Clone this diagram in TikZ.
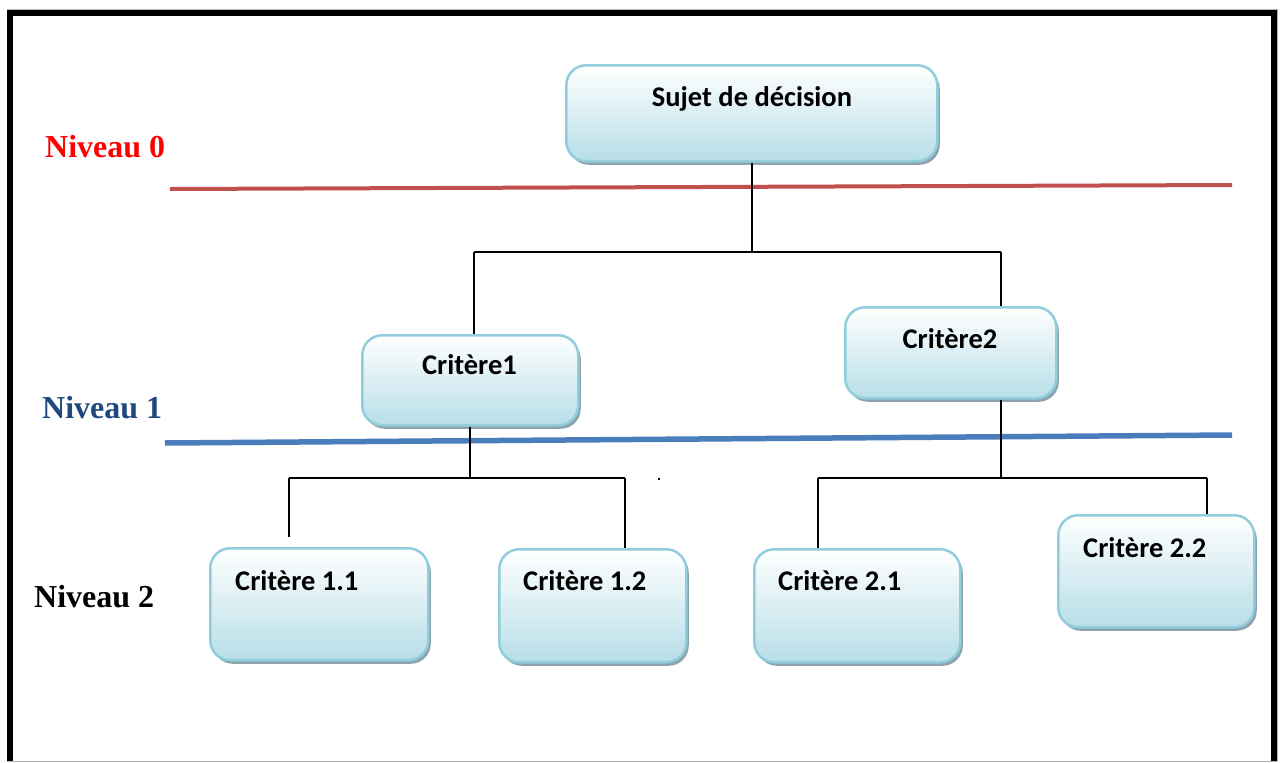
\documentclass[tikz,border=0pt]{standalone}
\usepackage{fontspec}
\setmainfont{Liberation Serif}
\newfontfamily\boxfont{Carlito}
\usetikzlibrary{shadows}
\definecolor{boxedge}{RGB}{146,205,220}
\definecolor{boxbot}{RGB}{183,222,232}
\definecolor{shadowc}{RGB}{140,162,172}
\definecolor{lvlred}{RGB}{192,80,77}
\definecolor{lvlblue}{RGB}{74,126,187}
\definecolor{nivblue}{RGB}{31,73,125}
\begin{document}
\begin{tikzpicture}[x=1pt,y=-1pt,
  box/.style={draw=boxedge, line width=2.5pt, rounded corners=20pt,
    top color=white, bottom color=boxbot, inner sep=0pt, anchor=north west,
    drop shadow={shadow xshift=2.5pt, shadow yshift=-3.5pt, fill=shadowc, opacity=1}},
  lab/.style={inner sep=0pt, font=\boxfont\bfseries\fontsize{28.5}{32}\selectfont},
  lvl/.style={inner sep=0pt, anchor=base west, font=\bfseries\fontsize{32}{36}\selectfont},
  conn/.style={draw=black, line width=2pt}]
\useasboundingbox (0,0) rectangle (1283,763);
% frame
\draw[gray!60, line width=1pt] (7.5,9.5) rectangle (1277,761);
\draw[line width=6pt] (10,761) -- (10,13) -- (1274,13) -- (1274,761);
% level lines
\draw[lvlred, line width=4pt] (170,189) -- (1232,185);
\draw[lvlblue, line width=5.5pt] (165,443) -- (1232,435);
% level labels
\node[lvl, text=red] (n0) at (45,157) {Niveau 0};
\node[lvl, text=nivblue] (n1) at (42,418) {Niveau 1};
\node[lvl, text=black] (n2) at (34,607) {Niveau 2};
% boxes
\node[box, minimum width=371pt, minimum height=96pt] (s) at (565,64) {};
\node[box, minimum width=216pt, minimum height=90pt] (c1) at (361,334) {};
\node[box, minimum width=211pt, minimum height=91pt] (c2) at (844,306) {};
\node[box, minimum width=218pt, minimum height=112pt] (c11) at (209,547) {};
\node[box, minimum width=187pt, minimum height=113pt] (c12) at (498,548) {};
\node[box, minimum width=206pt, minimum height=113pt] (c21) at (753,548) {};
\node[box, minimum width=196pt, minimum height=112pt] (c22) at (1057,514) {};
% connectors
\coordinate (j0) at (752,252);
\coordinate (j0l) at (474,252);
\coordinate (j0r) at (1001,252);
\coordinate (j1) at (470,478);
\coordinate (j1l) at (289,478);
\coordinate (j1r) at (625,478);
\coordinate (e11) at (289,537);
\coordinate (j2) at (1001,478);
\coordinate (j2l) at (818,478);
\coordinate (j2r) at (1207,478);
\draw[conn] (s.south -| j0) -- (j0);
\draw[conn] (j0l) -- (j0r);
\draw[conn] (j0l) -- (j0l |- c1.north);
\draw[conn] (j0r) -- (j0r |- c2.north);
\draw[conn] (c1.south -| j1) -- (j1);
\draw[conn] (j1l) -- (j1r);
\draw[conn] (j1l) -- (e11);
\draw[conn] (j1r) -- (j1r |- c12.north);
\draw[conn] (c2.south -| j2) -- (j2);
\draw[conn] (j2l) -- (j2r);
\draw[conn] (j2l) -- (j2l |- c21.north);
\draw[conn] (j2r) -- (j2r |- c22.north);
\fill (658,478) rectangle (660,480);
% box labels
\node[lab, anchor=base] (t0) at (752,106) {Sujet de décision};
\node[lab, anchor=base] (t1) at (469.5,374) {Critère1};
\node[lab, anchor=base] (t2) at (950,348) {Critère2};
\node[lab, anchor=base west] (t11) at (235,590) {Critère 1.1};
\node[lab, anchor=base west] (t12) at (523,590) {Critère 1.2};
\node[lab, anchor=base west] (t21) at (778,590) {Critère 2.1};
\node[lab, anchor=base west] (t22) at (1083,557) {Critère 2.2};
\end{tikzpicture}
\end{document}
